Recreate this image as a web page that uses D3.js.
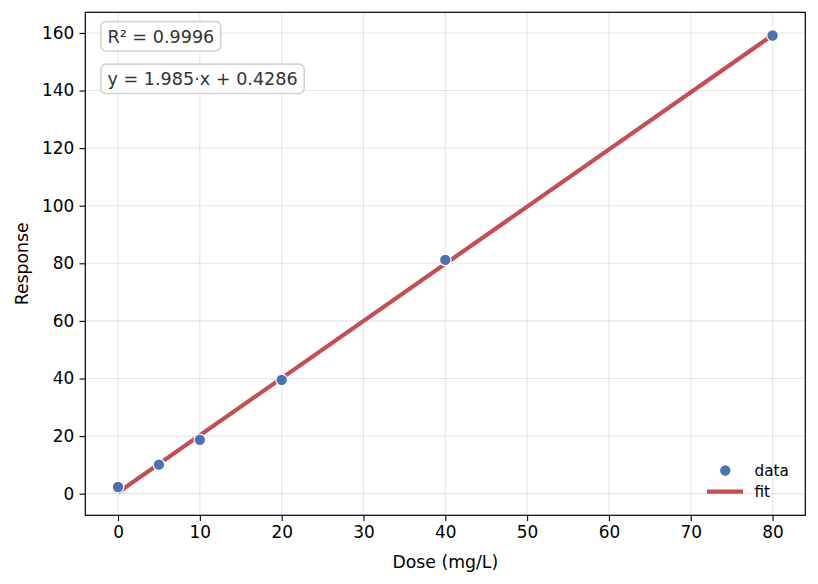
<!DOCTYPE html>
<html>
<head>
<meta charset="utf-8">
<script src="https://cdn.jsdelivr.net/npm/d3@7"></script>
<style>
  html, body { margin: 0; padding: 0; background: #ffffff; }
  svg { display: block; font-family: "DejaVu Sans", sans-serif; }
</style>
</head>
<body>
<svg id="chart" width="818" height="584"></svg>
<script>
// ---- data ----
const doses = [0, 5, 10, 20, 40, 80];
const responses = [2.3, 10.1, 18.7, 39.5, 81.2, 159.1];
const fitSlope = 1.985;
const fitIntercept = 0.4286;
const rSquared = 0.9996;
const xTicks = [0, 10, 20, 30, 40, 50, 60, 70, 80];
const yTicks = [0, 20, 40, 60, 80, 100, 120, 140, 160];
const xLabel = "Dose (mg/L)";
const yLabel = "Response";
const legendLabels = ["data", "fit"];

// ---- layout ----
const svg = d3.select("#chart");
const L = 85.3, R = 805.3, T = 12.3, B = 515.3;
const blue = "#4c72b0", red = "#c44e52";
const fs = 16.9;

const fitAt = x => fitSlope * x + fitIntercept;
const xMin = d3.min(doses), xMax = d3.max(doses);
const xPad = (xMax - xMin) * 0.05;
const allY = responses.concat([fitAt(xMin), fitAt(xMax)]);
const yMin = d3.min(allY), yMax = d3.max(allY);
const yPad = (yMax - yMin) * 0.05;

const x = d3.scaleLinear().domain([xMin - xPad, xMax + xPad]).range([L, R]);
const y = d3.scaleLinear().domain([yMin - yPad, yMax + yPad]).range([B, T]);

// grid
const grid = svg.append("g");
grid.selectAll(".gx").data(xTicks).enter().append("line")
  .attr("x1", d => x(d)).attr("x2", d => x(d)).attr("y1", T).attr("y2", B)
  .attr("stroke", "#b0b0b0").attr("stroke-opacity", 0.3).attr("stroke-width", 1.1);
grid.selectAll(".gy").data(yTicks).enter().append("line")
  .attr("y1", d => y(d)).attr("y2", d => y(d)).attr("x1", L).attr("x2", R)
  .attr("stroke", "#b0b0b0").attr("stroke-opacity", 0.3).attr("stroke-width", 1.1);

// fit line
const fitData = [xMin, xMax].map(v => [v, fitAt(v)]);
svg.append("path")
  .datum(fitData)
  .attr("d", d3.line().x(d => x(d[0])).y(d => y(d[1])))
  .attr("fill", "none").attr("stroke", red).attr("stroke-width", 4.2);

// points
svg.append("g").selectAll("circle").data(doses.map((d, i) => [d, responses[i]]))
  .enter().append("circle")
  .attr("cx", d => x(d[0])).attr("cy", d => y(d[1])).attr("r", 5.8)
  .attr("fill", blue).attr("stroke", "#ffffff").attr("stroke-width", 1.2);

// axes
const xAxis = d3.axisBottom(x).tickValues(xTicks).tickSize(5.8).tickPadding(5.2).tickFormat(d3.format("d"));
const yAxis = d3.axisLeft(y).tickValues(yTicks).tickSize(5.8).tickPadding(5.2).tickFormat(d3.format("d"));
const gx = svg.append("g").attr("transform", `translate(0,${B})`).call(xAxis);
const gy = svg.append("g").attr("transform", `translate(${L},0)`).call(yAxis);
[gx, gy].forEach(g => {
  g.select(".domain").remove();
  g.selectAll(".tick line").attr("stroke", "#000").attr("stroke-width", 1.1);
  g.selectAll(".tick text").attr("fill", "#000").style("font-size", fs + "px").style("font-family", "DejaVu Sans");
});

// frame
svg.append("rect").attr("x", L).attr("y", T).attr("width", R - L).attr("height", B - T)
  .attr("fill", "none").attr("stroke", "#000").attr("stroke-width", 1.2);

// axis labels
svg.append("text").attr("x", (L + R) / 2).attr("y", 568)
  .attr("text-anchor", "middle").style("font-size", "17.3px").text(xLabel);
svg.append("text").attr("transform", `translate(28,${(T + B) / 2}) rotate(-90)`)
  .attr("text-anchor", "middle").style("font-size", "17.3px").text(yLabel);

// annotation boxes
const annots = [
  { text: "R\u00B2 = " + rSquared.toFixed(4), cy: 36.3 },
  { text: "y = " + fitSlope.toFixed(3) + "\u00B7x + " + fitIntercept.toFixed(4), cy: 78.8 }
];
annots.forEach(a => {
  const g = svg.append("g");
  const t = g.append("text").attr("x", 107.5).attr("y", a.cy).attr("dy", "0.36em")
    .attr("fill", "#333333").style("font-size", "17.6px").text(a.text);
  const bb = t.node().getBBox();
  g.insert("rect", "text")
    .attr("x", bb.x - 6.5).attr("y", a.cy - 14.7).attr("width", bb.width + 13).attr("height", 29.4)
    .attr("rx", 5).attr("ry", 5)
    .attr("fill", "#ffffff").attr("fill-opacity", 0.85)
    .attr("stroke", "#d3d3d3").attr("stroke-width", 1.6);
});

// legend
const lg = svg.append("g");
lg.append("circle").attr("cx", 725.3).attr("cy", 470.5).attr("r", 5.8)
  .attr("fill", blue).attr("stroke", "#ffffff").attr("stroke-width", 1.2);
lg.append("line").attr("x1", 707).attr("x2", 743).attr("y1", 491.7).attr("y2", 491.7)
  .attr("stroke", red).attr("stroke-width", 4.2);
lg.selectAll("text").data(legendLabels).enter().append("text")
  .attr("x", 754.5).attr("y", (d, i) => 470.5 + i * 21.5).attr("dy", "0.36em")
  .attr("fill", "#000").style("font-size", "15.2px").text(d => d);
</script>
</body>
</html>
